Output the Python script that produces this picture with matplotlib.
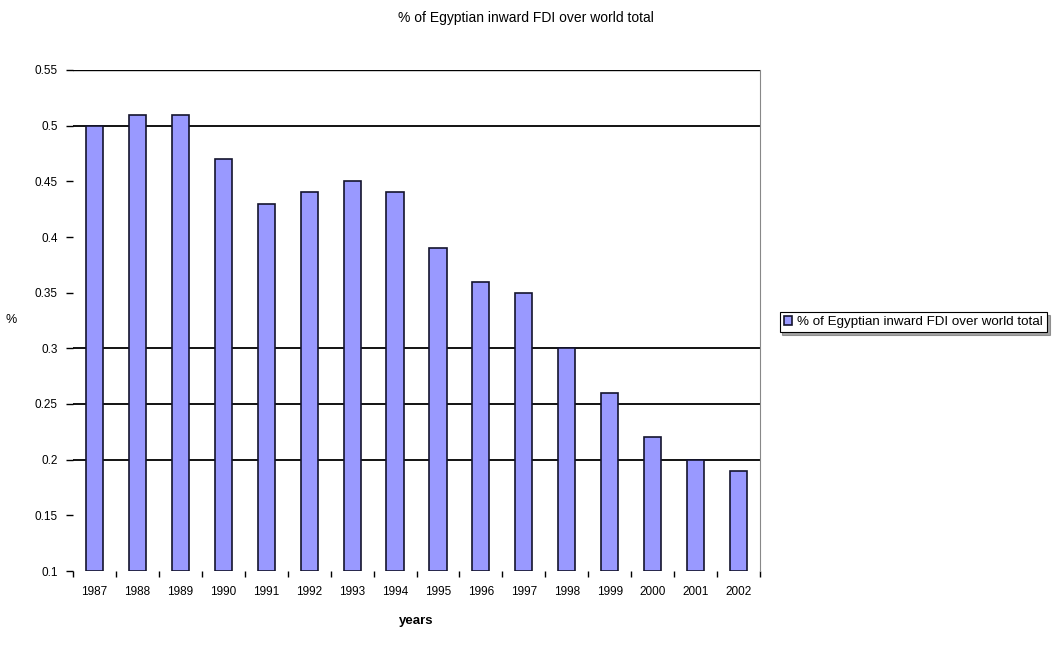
import numpy as np
import matplotlib
matplotlib.use("Agg")
import matplotlib.pyplot as plt

# share of Egyptian inward FDI in the world total, per year
years = [1987, 1988, 1989, 1990, 1991, 1992, 1993, 1994,
         1995, 1996, 1997, 1998, 1999, 2000, 2001, 2002]
share = [0.50, 0.51, 0.51, 0.47, 0.43, 0.44, 0.45, 0.44,
         0.39, 0.36, 0.35, 0.30, 0.26, 0.22, 0.20, 0.19]
yticks = [0.1, 0.15, 0.2, 0.25, 0.3, 0.35, 0.4, 0.45, 0.5, 0.55]
gridvals = [0.2, 0.25, 0.3, 0.5]

title = "% of Egyptian inward FDI over world total"

plt.rcParams['font.family'] = ['Liberation Sans', 'DejaVu Sans']

fig = plt.figure(figsize=(10.59, 6.46), dpi=100)
ax = fig.add_axes([73 / 1059, 1 - 571 / 646, (760 - 73) / 1059, (571 - 70) / 646])

x = np.arange(len(years))
bottom = 0.1
for g in gridvals:
    ax.axhline(g, color='black', lw=1.3, zorder=1)
ax.axhline(0.55, color='black', lw=1.0, zorder=1)

ax.bar(x, np.array(share) - bottom, bottom=bottom, width=0.4,
       color='#9999FF', edgecolor='#14142e', lw=1.2, zorder=2,
       label=title)

ax.set_xlim(-0.5, len(years) - 0.5)
ax.set_ylim(0.1, 0.55)
ax.set_yticks(yticks)
ax.set_yticklabels([f"{v:g}" for v in yticks], fontsize=8.5)
ax.set_xticks(x)
ax.set_xticklabels([str(y) for y in years], fontsize=8.5)
ax.set_xticks(np.arange(len(years) + 1) - 0.5, minor=True)
ax.tick_params(axis='x', which='major', length=0, pad=11)
ax.tick_params(axis='x', which='minor', length=4, width=1, direction='out')
ax.tick_params(axis='y', length=5, width=1, pad=6)

ax.spines['top'].set_visible(False)
ax.spines['left'].set_visible(False)
ax.spines['bottom'].set_visible(False)
ax.spines['right'].set_color('#888888')

ax.set_xlabel("years", fontsize=9.5, fontweight='bold', labelpad=12)
ax.set_ylabel("%", fontsize=9, rotation=0)
ax.yaxis.set_label_coords(-0.09, 0.49)

fig.text(526 / 1059, 1 - 18 / 646, title, ha='center', va='center', fontsize=10)

leg = fig.legend(loc='center left', bbox_to_anchor=(773 / 1059, 1 - 322 / 646),
                 fontsize=9.6, frameon=True, fancybox=False, shadow=True,
                 handlelength=0.6, handleheight=0.6, borderpad=0.3,
                 handletextpad=0.4)
leg.get_frame().set_edgecolor('black')
leg.get_frame().set_linewidth(0.8)

fig.savefig("out.png", dpi=100)
